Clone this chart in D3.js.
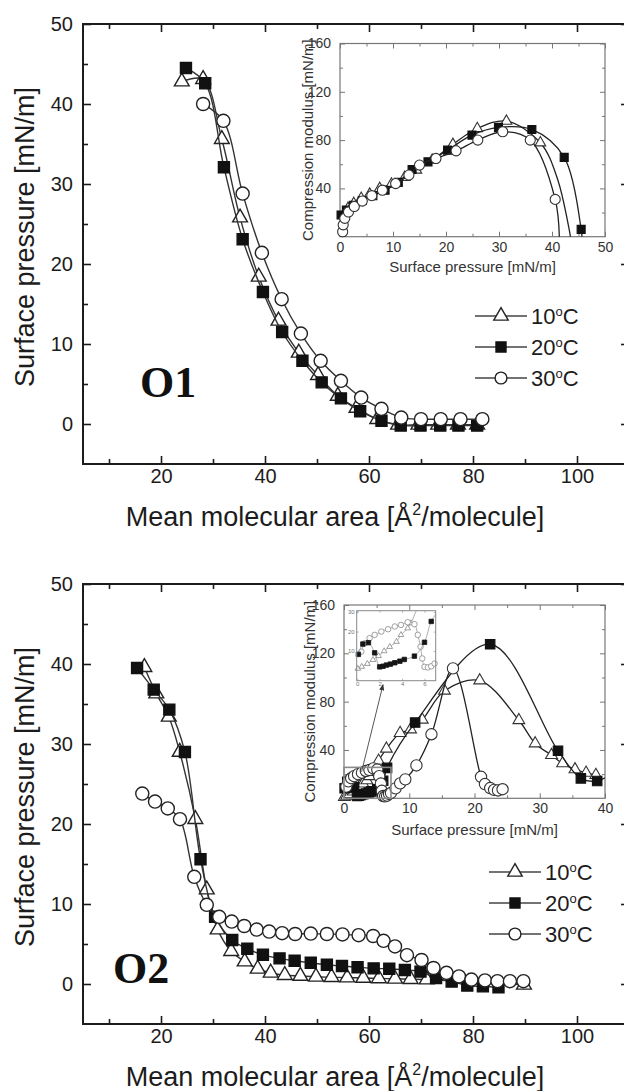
<!DOCTYPE html>
<html>
<head>
<meta charset="utf-8">
<script src="https://cdn.jsdelivr.net/npm/d3@7"></script>
<style>
body { margin:0; background:#fff; }
svg { display:block; }
</style>
</head>
<body>
<svg id="fig" width="624" height="1091"></svg>
<script>
// ---- values: [mean molecular area, surface pressure] ----
var o1_10C = [[24.0,42.8],[28.1,43.1],[31.7,35.6],[35.2,25.8],[38.8,18.4],[42.6,12.9],[46.5,8.9],[50.2,6.1],[54.0,3.5],[57.6,2.0],[61.6,0.6],[65.6,-0.1],[69.5,-0.1],[73.3,-0.1],[77.1,-0.1],[80.8,-0.1]];
var o1_20C = [[24.8,44.5],[28.5,42.6],[32.1,32.1],[35.7,23.1],[39.6,16.5],[43.3,11.5],[47.2,7.9],[50.9,5.2],[54.6,3.2],[58.3,1.6],[62.4,0.4],[66.1,-0.2],[69.9,-0.2],[73.7,-0.2],[77.2,-0.2],[80.8,-0.2]];
var o1_30C = [[28.1,40.0],[32.0,37.9],[35.7,28.8],[39.4,21.4],[43.2,15.6],[46.9,11.3],[50.7,7.9],[54.6,5.4],[58.5,3.3],[62.4,1.9],[66.2,0.8],[70.0,0.6],[73.8,0.6],[77.6,0.6],[81.8,0.6]];

var o2_10C = [[16.8,39.6],[19.1,36.3],[21.5,33.4],[23.6,29.0],[26.6,20.6],[28.8,11.8],[30.9,6.8],[33.5,4.1],[36.1,2.8],[38.6,1.9],[41.1,1.4],[43.8,1.1],[46.8,1.0],[49.8,0.9],[52.8,0.85],[55.8,0.8],[58.9,0.75],[61.9,0.7],[65.0,0.65],[68.0,0.6],[71.1,0.55],[89.8,-0.1]];
var o2_20C = [[15.4,39.5],[18.6,36.8],[21.6,34.3],[24.6,29.0],[27.6,15.6],[30.4,8.4],[33.7,5.5],[36.6,4.4],[39.6,3.65],[42.8,3.2],[45.7,2.9],[48.8,2.65],[51.9,2.4],[54.8,2.25],[57.8,2.1],[60.9,1.95],[63.9,1.9],[66.9,1.75],[69.9,1.55],[72.9,0.75],[75.9,0.3],[78.9,-0.2],[81.9,-0.3],[84.9,-0.4]];
var o2_30C = [[16.4,23.8],[18.85,22.8],[21.3,21.95],[23.65,20.6],[26.4,13.4],[28.8,9.9],[31.2,8.4],[33.6,7.8],[36.0,7.25],[38.4,6.8],[40.8,6.55],[43.3,6.35],[45.8,6.25],[48.8,6.3],[51.9,6.25],[54.9,6.2],[58.0,6.1],[60.8,6.0],[62.8,5.4],[65.0,4.7],[67.3,3.6],[70.1,3.0],[72.4,2.0],[74.9,1.4],[77.3,0.95],[79.7,0.55],[82.3,0.45],[84.7,0.35],[87.1,0.35],[89.7,0.35]];

// ---- insets: [surface pressure, compression modulus] ----
var in1_10C = [[0.9,19.4],[1.5,23.5],[2.6,27.6],[4.0,31.8],[5.6,35.3],[7.5,40.0],[9.7,43.6],[12.2,49.1],[14.4,55.2],[17.4,63.4],[21.3,76.5],[25.9,89.6],[31.4,95.7],[37.8,77.8]];
var in1_10C_tail = [[41.1,47],[43.6,-3]];
var in1_20C = [[0.2,18],[1.2,22],[2.5,26],[4.2,30],[6.2,34],[8.5,38.5],[11.0,45],[13.6,55.7],[16.6,62],[20.3,71.7],[24.9,84.1],[29.9,90.5],[36.2,88.8],[42.3,65.7],[45.5,6.1]];
var in1_20C_tail = [[45.7,-3]];
var in1_30C = [[0.5,4.1],[0.6,9.8],[0.9,15.2],[1.6,20.5],[2.7,25],[4.2,29.5],[6.0,34],[8.0,38.5],[10.5,44],[13.0,51],[15.0,59.3],[18.1,64.8],[21.9,71.1],[26.0,80],[30.7,86.9],[35.9,80],[40.6,30.9]];
var in1_30C_tail = [[41.4,-3]];

// low-pressure part of the O2 inset (also shown enlarged in the small box)
var mini_10C = [[0.05,1],[0.4,2],[0.9,3.5],[1.4,5.5],[1.9,7.5],[2.4,10],[2.9,12.2],[3.5,14.8],[3.9,18.3],[4.5,21.7],[4.8,24.3]];
var mini_20C = [[0.1,8.3],[0.5,13.6],[1.0,14.3],[1.55,9.1],[2.0,1.9],[2.3,2.2],[2.6,2.8],[2.95,3.3],[3.35,4.0],[3.8,4.8],[4.2,5.7],[5.1,7.4],[6.0,14.5],[6.6,25.2]];
var mini_30C = [[0.36,9.7],[0.66,14],[1.1,16.6],[1.55,18.3],[2.15,20],[2.75,21.2],[3.35,22.6],[3.9,23.4],[4.5,24.8],[5.1,23.8],[5.4,18.3],[5.65,12.2],[5.8,6.2],[6.0,1.9],[6.3,1.6],[6.6,2.2],[6.9,3.6]];
var in2_10C_high = [[5.3,31],[6.5,41],[8.6,54],[10.2,57],[12.0,65],[15.4,89],[20.8,97.5],[26.8,64.6],[29.3,45.4],[31.8,35.7],[33.5,28.9],[35.4,23.9],[37.1,21.1],[38.6,19.2]];
var in2_20C_high = [[10.9,62.7],[22.4,127.5],[32.8,39.3],[36.3,16.5],[38.8,14.3]];
var in2_20C_tail = [[40,17]];
var in2_30C_high = [[7.2,4.4],[7.9,8.2],[8.6,12.4],[9.4,15.7],[11.1,27.2],[13.4,53],[16.7,107.5],[21.0,17.8],[21.6,11.8],[22.4,8.5],[23.0,7],[23.6,6.5],[24.3,7.5]];
var zoomBox = [7.2, 25.6];   // pressure / modulus extent of the grey box

// ---- ticks and labels ----
var tempLabels = ["10", "20", "30"];
var mainXTicks = [20,40,60,80,100], mainXMinor = [10,30,50,70,90];
var mainYTicks = [0,10,20,30,40,50], mainYMinor = [5,15,25,35,45];
var in1XTicks = [0,10,20,30,40,50], in1XMinor = [5,15,25,35,45];
var in2XTicks = [0,10,20,30,40], in2XMinor = [5,15,25,35];
var inYTicks = [40,80,120,160], inYMinor = [20,60,100,140];
var miniXTicks = [0,2,4,6], miniYTicks = [10,20,30];

var FONT = "'Liberation Sans', Arial, Helvetica, sans-serif";
var INK = "#1c1c1c";
var svg = d3.select("#fig");

var SYM = { tri: d3.symbolTriangle, sq: d3.symbolSquare, circ: d3.symbolCircle };
var KINDS = ["tri", "sq", "circ"];

function axes(g, x, y, st) {
  var xr = x.range(), yr = y.range();
  var sides = [
    [d3.axisBottom, x, "translate(0," + yr[0] + ")", st.xTicks, st.xMinor, true, st.xPad],
    [d3.axisTop, x, "translate(0," + yr[1] + ")", st.xTicks, st.xMinor, false, 0],
    [d3.axisLeft, y, "translate(" + xr[0] + ",0)", st.yTicks, st.yMinor, true, st.yPad],
    [d3.axisRight, y, "translate(" + xr[1] + ",0)", st.yTicks, st.yMinor, false, 0]
  ];
  sides.forEach(function(s) {
    g.append("g").attr("transform", s[2])
      .call(s[0](s[1]).tickValues(s[3]).tickSize(-st.major).tickSizeOuter(0)
        .tickPadding(s[6]).tickFormat(s[5] ? d3.format("d") : ""));
    if (s[4]) {
      g.append("g").attr("transform", s[2])
        .call(s[0](s[1]).tickValues(s[4]).tickSize(-st.minor).tickSizeOuter(0).tickFormat(""));
    }
  });
  g.selectAll(".domain").remove();
  g.selectAll(".tick line").attr("stroke", st.color).attr("stroke-width", st.tickW);
  g.selectAll(".tick text").attr("fill", st.text)
    .style("font-family", FONT).style("font-size", st.fs + "px");
  g.append("rect")
    .attr("x", xr[0]).attr("y", yr[1])
    .attr("width", xr[1] - xr[0]).attr("height", yr[0] - yr[1])
    .attr("fill", "none").attr("stroke", st.color).attr("stroke-width", st.frameW);
}

function series(g, pts, tail, x, y, kind, st) {
  var line = d3.line().x(d => x(d[0])).y(d => y(d[1])).curve(d3.curveCatmullRom.alpha(0.5));
  g.append("path").attr("d", line(pts.concat(tail || [])))
    .attr("fill", "none").attr("stroke", st.line).attr("stroke-width", st.lineW)
    .attr("clip-path", st.clip ? "url(#" + st.clip + ")" : null);
  g.selectAll(null).data(pts).enter().append("path")
    .attr("transform", d => "translate(" + x(d[0]) + "," + y(d[1]) + ")")
    .attr("d", d3.symbol().type(SYM[kind]).size(st.size[kind]))
    .attr("fill", kind === "sq" ? st.solid : "#fff")
    .attr("stroke", kind === "sq" ? st.solid : st.edge)
    .attr("stroke-width", st.edgeW);
}

function clipRect(id, x, y) {
  svg.append("clipPath").attr("id", id).append("rect")
    .attr("x", x.range()[0]).attr("y", y.range()[1])
    .attr("width", x.range()[1] - x.range()[0]).attr("height", y.range()[0] - y.range()[1]);
}

var mainStyle = { line: "#333", lineW: 1.4, solid: "#111", edge: "#222", edgeW: 1.4,
  size: { tri: 95, sq: 121, circ: 135 } };
var insetStyle = { line: "#222", lineW: 1.3, solid: "#111", edge: "#333", edgeW: 1.1,
  size: { tri: 50, sq: 64, circ: 80 } };
var mainAxisStyle = { major: 8, minor: 5, xPad: 5, yPad: 10, color: INK, text: INK,
  tickW: 1.6, frameW: 2, fs: 20 };
var insetAxisStyle = { major: 5, minor: 3, xPad: 5, yPad: 9, color: "#777", text: "#333",
  tickW: 1, frameW: 1.2, fs: 14 };

function mainPanel(top, data, tag, tagPos, legendPos) {
  var x = d3.scaleLinear().domain([5, 110]).range([83, 629]);
  var y = d3.scaleLinear().domain([-5, 50]).range([top + 440, top]);
  var g = svg.append("g");
  axes(g, x, y, Object.assign({ xTicks: mainXTicks, xMinor: mainXMinor,
    yTicks: mainYTicks, yMinor: mainYMinor }, mainAxisStyle));

  g.append("text").attr("transform", "translate(25," + (top + 213) + ") rotate(-90)")
    .attr("text-anchor", "middle").attr("dy", "0.35em")
    .style("font-family", FONT).style("font-size", "27px").attr("fill", INK)
    .text("Surface pressure [mN/m]");
  var xt = g.append("text").attr("x", 335).attr("y", top + 502).attr("text-anchor", "middle")
    .style("font-family", FONT).style("font-size", "27px").attr("fill", INK);
  xt.append("tspan").text("Mean molecular area [Å");
  xt.append("tspan").attr("dy", -11).style("font-size", "16px").text("2");
  xt.append("tspan").attr("dy", 11).text("/molecule]");

  g.append("text").attr("x", tagPos[0]).attr("y", tagPos[1])
    .style("font-family", "'Liberation Serif', 'Times New Roman', serif")
    .style("font-size", "44px").style("font-weight", "bold").attr("fill", "#111").text(tag);

  data.forEach(function(d, i) { series(g, d, null, x, y, KINDS[i], mainStyle); });

  // legend
  tempLabels.forEach(function(t, i) {
    var ly = legendPos[1] + i * 31, lx = legendPos[0];
    g.append("line").attr("x1", lx).attr("x2", lx + 52).attr("y1", ly).attr("y2", ly)
      .attr("stroke", "#444").attr("stroke-width", 1.4);
    series(g, [[0, 0]], null, d3.scaleLinear().range([lx + 26, lx + 27]), d3.scaleLinear().range([ly, ly + 1]), KINDS[i],
      Object.assign({}, mainStyle, { lineW: 0, size: { tri: 90, sq: 100, circ: 110 } }));
    var tx = g.append("text").attr("x", lx + 56).attr("y", ly).attr("dy", "0.36em")
      .style("font-family", FONT).style("font-size", "22px").attr("fill", INK);
    tx.append("tspan").text(t);
    tx.append("tspan").attr("dy", -8).style("font-size", "13px").text("o");
    tx.append("tspan").attr("dy", 8).text("C");
  });
  return g;
}

function insetTitles(g, x, y, yTitleX, xTitleY) {
  var yr = y.range(), xr = x.range();
  g.append("text").attr("transform", "translate(" + yTitleX + "," + (yr[0] + yr[1]) / 2 + ") rotate(-90)")
    .attr("text-anchor", "middle").attr("dy", "0.35em")
    .style("font-family", FONT).style("font-size", "15px").attr("fill", "#333")
    .text("Compression modulus [mN/m]");
  g.append("text").attr("x", (xr[0] + xr[1]) / 2).attr("y", xTitleY).attr("text-anchor", "middle")
    .style("font-family", FONT).style("font-size", "15px").attr("fill", "#333")
    .text("Surface pressure [mN/m]");
}

// ---------- O1 ----------
var g1 = mainPanel(24, [o1_10C, o1_20C, o1_30C], "O1", [140, 397], [475, 316]);

var ix1 = d3.scaleLinear().domain([0, 50]).range([340, 605]);
var iy1 = d3.scaleLinear().domain([0, 160]).range([236.7, 43.5]);
clipRect("clipIn1", ix1, iy1);
var gi1 = svg.append("g");
gi1.append("rect").attr("x", 340).attr("y", 43.5).attr("width", 265).attr("height", 193.2).attr("fill", "#fff");
axes(gi1, ix1, iy1, Object.assign({ xTicks: in1XTicks, xMinor: in1XMinor,
  yTicks: inYTicks, yMinor: inYMinor }, insetAxisStyle));
insetTitles(gi1, ix1, iy1, 308, 272);
var st1 = Object.assign({}, insetStyle, { clip: "clipIn1" });
series(gi1, in1_10C, in1_10C_tail, ix1, iy1, "tri", st1);
series(gi1, in1_20C, in1_20C_tail, ix1, iy1, "sq", st1);
series(gi1, in1_30C, in1_30C_tail, ix1, iy1, "circ", st1);

// ---------- O2 ----------
var g2 = mainPanel(584, [o2_10C, o2_20C, o2_30C], "O2", [113, 983], [489, 872]);

var ix2 = d3.scaleLinear().domain([0, 40]).range([344, 605]);
var iy2 = d3.scaleLinear().domain([0, 160]).range([798.3, 605]);
clipRect("clipIn2", ix2, iy2);
var gi2 = svg.append("g");
axes(gi2, ix2, iy2, Object.assign({ xTicks: in2XTicks, xMinor: in2XMinor,
  yTicks: inYTicks, yMinor: inYMinor }, insetAxisStyle));
insetTitles(gi2, ix2, iy2, 310, 835);
var st2 = Object.assign({}, insetStyle, { clip: "clipIn2", size: { tri: 60, sq: 90, circ: 100 } });
series(gi2, mini_10C.concat(in2_10C_high), null, ix2, iy2, "tri", st2);
series(gi2, mini_20C.concat(in2_20C_high), in2_20C_tail, ix2, iy2, "sq", st2);
series(gi2, mini_30C.concat(in2_30C_high), null, ix2, iy2, "circ", st2);

// grey box marking the enlarged region
gi2.append("rect").attr("x", ix2(0)).attr("y", iy2(zoomBox[1]))
  .attr("width", ix2(zoomBox[0]) - ix2(0)).attr("height", iy2(0) - iy2(zoomBox[1]))
  .attr("fill", "none").attr("stroke", "#8a8a8a").attr("stroke-width", 1.6);

// small enlarged view
var mx = d3.scaleLinear().domain([-0.05, 7]).range([356.7, 435.7]);
var my = d3.scaleLinear().domain([-5.2, 30.7]).range([680.7, 610.7]);
clipRect("clipMini", mx, my);
var gm = svg.append("g");
gm.append("rect").attr("x", 356.7).attr("y", 610.7).attr("width", 79).attr("height", 70).attr("fill", "#fff");
var miniStyle = { line: "#999", lineW: 0.8, solid: "#151515", edge: "#888", edgeW: 0.8,
  clip: "clipMini", size: { tri: 14, sq: 20, circ: 24 } };
series(gm, mini_10C, [[5.3,31],[6.0,36]], mx, my, "tri", miniStyle);
series(gm, mini_30C, [[7.2,4.4],[7.9,8.2]], mx, my, "circ", miniStyle);
series(gm, mini_20C, [[7.5,33],[8,40]], mx, my, "sq", miniStyle);
axes(gm, mx, my, { xTicks: miniXTicks, xMinor: null, yTicks: miniYTicks, yMinor: null,
  major: 2, minor: 1, xPad: 1, yPad: 2, color: "#888", text: "#777", tickW: 0.6, frameW: 1, fs: 6 });

// arrow from the grey box to the enlarged view
svg.append("defs").append("marker").attr("id", "arrowHead")
  .attr("viewBox", "0 0 10 10").attr("refX", 9).attr("refY", 5)
  .attr("markerWidth", 7).attr("markerHeight", 7).attr("orient", "auto")
  .append("path").attr("d", "M0,1 L10,5 L0,9 Z").attr("fill", "#333");
svg.append("line")
  .attr("x1", ix2(2.7)).attr("y1", iy2(22))
  .attr("x2", mx(2.3)).attr("y2", my(-5.2) + 4)
  .attr("stroke", "#444").attr("stroke-width", 0.9).attr("marker-end", "url(#arrowHead)");
</script>
</body>
</html>
